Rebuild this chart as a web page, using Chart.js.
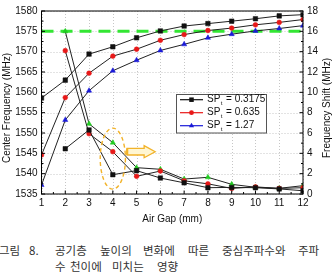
<!DOCTYPE html>
<html>
<head>
<meta charset="utf-8">
<script src="https://cdn.jsdelivr.net/npm/chart.js@4.4.1/dist/chart.umd.min.js"></script>
<style>
  html, body { margin: 0; padding: 0; background: #fff; }
  body { width: 335px; height: 279px; position: relative; overflow: hidden; }
  #wrap { position: absolute; left: 0; top: 0; width: 335px; height: 232px; }
  .cap { position: absolute; font-family: "Noto Sans CJK KR", sans-serif; font-size: 11.5px; line-height: 12px; color: #333; white-space: nowrap; }
</style>
</head>
<body>
<div id="wrap"><canvas id="chart" width="335" height="232"></canvas></div>

<span class="cap" style="left:-1px;top:244px">그림</span>
<span class="cap" style="left:29px;top:244px">8.</span>
<span class="cap" style="left:55px;top:244px">공기층</span>
<span class="cap" style="left:100px;top:244px">높이의</span>
<span class="cap" style="left:143px;top:244px">변화에</span>
<span class="cap" style="left:188px;top:244px">따른</span>
<span class="cap" style="left:222px;top:244px">중심주파수와</span>
<span class="cap" style="left:298px;top:244px">주파</span>
<span class="cap" style="left:55px;top:260px">수</span>
<span class="cap" style="left:70px;top:260px">천이에</span>
<span class="cap" style="left:112px;top:260px">미치는</span>
<span class="cap" style="left:157px;top:260px">영향</span>

<script>
const airGap = [1, 2, 3, 4, 5, 6, 7, 8, 9, 10, 11, 12];

// center frequency (MHz), left axis
const freqSP1 = [1558.6, 1563.0, 1569.4, 1571.2, 1573.4, 1575.1, 1576.3, 1576.9, 1577.5, 1578.1, 1578.8, 1579.1];
const freqSP2 = [1544.6, 1558.7, 1564.7, 1568.9, 1570.6, 1572.8, 1574.2, 1575.2, 1575.8, 1576.6, 1577.2, 1577.9];
const freqSP3 = [1537.2, 1553.2, 1560.4, 1565.3, 1567.9, 1570.3, 1571.8, 1573.4, 1574.3, 1575.1, 1575.7, 1576.4];

// frequency shift (MHz), right axis
const shiftSP1 = [null, 4.45, 6.3, 1.9, 2.3, 1.57, 1.1, 0.62, 0.65, 0.62, 0.5, 0.32];
const shiftSP2 = [null, 14.1, 5.93, 4.16, 1.74, 2.26, 1.3, 1.0, 0.55, 0.7, 0.55, 0.62];
const shiftSP3 = [null, 16.0, 6.9, 5.05, 2.59, 2.43, 1.47, 1.64, 0.95, 0.66, 0.56, 0.82];

const legendLabels = ['0.3175', '0.635', '1.27'];
const targetFreq = 1575;

const freqTicks = { min: 1535, max: 1580, step: 5 };
const shiftTicks = { min: 0, max: 18, step: 2 };

const pts = ys => airGap.map((x, i) => ({ x, y: ys[i] })).filter(p => p.y !== null);

const LINE = '#222';
const BLACK = '#111', RED = '#e81818', BLUE = '#1a1ad8', GREEN = '#22cc22';
const FONT = '"Liberation Sans", Arial, sans-serif';

function series(label, data, axis, style, color, radius) {
  return {
    label, data: pts(data), yAxisID: axis,
    borderColor: LINE, borderWidth: 1,
    pointStyle: style, pointRadius: radius, pointBackgroundColor: color,
    pointBorderColor: color, pointBorderWidth: 0.5,
    tension: 0, fill: false,
  };
}

// dotted grid, frame, ticks, titles, legend, annotation
const decor = {
  id: 'decor',
  beforeDatasetsDraw(chart) {
    const { ctx, chartArea: a, scales: { x, y } } = chart;
    ctx.save();
    ctx.strokeStyle = '#b8b8b8';
    ctx.lineWidth = 0.8;
    ctx.setLineDash([1, 2]);
    ctx.beginPath();
    airGap.forEach(v => {
      const p = Math.round(x.getPixelForValue(v)) + 0.5;
      ctx.moveTo(p, a.top); ctx.lineTo(p, a.bottom);
    });
    for (let v = freqTicks.min; v <= freqTicks.max; v += freqTicks.step) {
      const p = Math.round(y.getPixelForValue(v)) + 0.5;
      ctx.moveTo(a.left, p); ctx.lineTo(a.right, p);
    }
    ctx.stroke();
    ctx.restore();
  },
  afterDatasetsDraw(chart) {
    const { ctx, chartArea: a, scales: { x, y, y2 } } = chart;
    ctx.save();

    // dashed ellipse around gap = 4
    const cx = x.getPixelForValue(4), cy = y.getPixelForValue(1543.7);
    const rx = x.getPixelForValue(4.53) - cx, ry = y.getPixelForValue(1536.2) - cy;
    ctx.strokeStyle = '#f2b32a';
    ctx.lineWidth = 1.4;
    ctx.setLineDash([4, 3]);
    ctx.beginPath();
    ctx.ellipse(cx, cy, rx, ry, 0, 0, Math.PI * 2);
    ctx.stroke();
    ctx.setLineDash([]);

    // hollow arrow
    const ax0 = x.getPixelForValue(4.6), ax1 = x.getPixelForValue(5.78), ay = y.getPixelForValue(1545.4);
    const hx = ax1 - 11;
    ctx.beginPath();
    ctx.moveTo(ax0, ay - 3.3);
    ctx.lineTo(hx, ay - 3.3);
    ctx.lineTo(hx, ay - 6);
    ctx.lineTo(ax1, ay);
    ctx.lineTo(hx, ay + 6);
    ctx.lineTo(hx, ay + 3.3);
    ctx.lineTo(ax0, ay + 3.3);
    ctx.closePath();
    ctx.fillStyle = '#fff6d2';
    ctx.fill();
    ctx.lineWidth = 1.3;
    ctx.strokeStyle = '#f2b32a';
    ctx.stroke();
    ctx.fillStyle = '#f2b32a';
    ctx.fillRect(ax0 - 1, ay - 3.3, 2.2, 6.6);

    // frame
    ctx.strokeStyle = '#000';
    ctx.lineWidth = 1;
    ctx.strokeRect(a.left, a.top, a.right - a.left, a.bottom - a.top);

    // inner ticks
    ctx.beginPath();
    for (let v = freqTicks.min; v <= freqTicks.max; v += freqTicks.step / 2) {
      const p = y.getPixelForValue(v), len = (v - freqTicks.min) % freqTicks.step === 0 ? 3.5 : 2;
      ctx.moveTo(a.left, p); ctx.lineTo(a.left + len, p);
    }
    for (let v = shiftTicks.min; v <= shiftTicks.max; v += shiftTicks.step / 2) {
      const p = y2.getPixelForValue(v), len = v % shiftTicks.step === 0 ? 3.5 : 2;
      ctx.moveTo(a.right, p); ctx.lineTo(a.right - len, p);
    }
    for (let v = 1; v <= 12; v += 0.5) {
      const p = x.getPixelForValue(v), len = v % 1 === 0 ? 3.5 : 2;
      ctx.moveTo(p, a.bottom); ctx.lineTo(p, a.bottom - len);
    }
    ctx.stroke();

    // legend
    const lx = 176, ly = 94, lw = 90, lh = 38.5;
    ctx.fillStyle = '#fff';
    ctx.fillRect(lx, ly, lw, lh);
    ctx.strokeStyle = '#555';
    ctx.strokeRect(lx + 0.5, ly + 0.5, lw, lh);
    const legendStyle = [[BLACK, 'rect', 3.2], [RED, 'circle', 2.4], [BLUE, 'triangle', 3]];
    legendStyle.forEach(([c, st, r], i) => {
      const ry0 = ly + 5.7 + i * 13;
      ctx.strokeStyle = c;
      ctx.lineWidth = 1.2;
      ctx.beginPath(); ctx.moveTo(lx + 4, ry0); ctx.lineTo(lx + 27, ry0); ctx.stroke();
      ctx.fillStyle = c;
      Chart.helpers.drawPoint(ctx, { pointStyle: st, radius: r, borderWidth: 0 }, lx + 15.5, ry0);
      ctx.fillStyle = '#111';
      ctx.textBaseline = 'middle';
      ctx.textAlign = 'left';
      ctx.font = '10px ' + FONT;
      ctx.fillText('SP', lx + 31, ry0);
      const w = ctx.measureText('SP').width;
      ctx.font = '6px ' + FONT;
      ctx.fillText('t', lx + 31 + w + 0.5, ry0 + 3.5);
      ctx.font = '10px ' + FONT;
      ctx.fillText(' = ' + legendLabels[i], lx + 31 + w + 3, ry0);
    });

    ctx.restore();
  },
  afterDraw(chart) {
    const { ctx, chartArea: a } = chart;
    ctx.save();
    ctx.fillStyle = '#111';
    ctx.font = '10px ' + FONT;
    ctx.textAlign = 'center';
    ctx.textBaseline = 'middle';
    ctx.fillText('Air Gap (mm)', (a.left + a.right) / 2, 219.5);
    const my = 108;
    ctx.translate(7, my); ctx.rotate(-Math.PI / 2);
    ctx.fillText('Center Frequency (MHz)', 0, 0);
    ctx.setTransform(1, 0, 0, 1, 0, 0);
    ctx.translate(327.5, my); ctx.rotate(-Math.PI / 2);
    ctx.fillText('Frequency Shift (MHz)', 0, 0);
    ctx.restore();
  },
};

const tickFont = { family: FONT, size: 10 };
const plain = v => String(v);

new Chart(document.getElementById('chart'), {
  type: 'line',
  data: {
    datasets: [
      series('SP 0.3175', freqSP1, 'y', 'rect', BLACK, 3.2),
      series('SP 0.635', freqSP2, 'y', 'circle', RED, 2.4),
      series('SP 1.27', freqSP3, 'y', 'triangle', BLUE, 3),
      series('shift 0.3175', shiftSP1, 'y2', 'rect', BLACK, 3.2),
      series('shift 0.635', shiftSP2, 'y2', 'circle', RED, 2.4),
      series('shift 1.27', shiftSP3, 'y2', 'triangle', GREEN, 3),
      {
        label: 'target', yAxisID: 'y', order: 10,
        data: [{ x: airGap[0], y: targetFreq }, { x: airGap[airGap.length - 1], y: targetFreq }],
        borderColor: '#33e633', borderWidth: 3, borderDash: [12, 7], pointRadius: 0, fill: false,
      },
    ],
  },
  options: {
    responsive: false,
    animation: false,
    devicePixelRatio: 1,
    layout: { padding: { top: 11, left: 0, right: 0, bottom: 0 } },
    plugins: { legend: { display: false }, tooltip: { enabled: false } },
    scales: {
      x: {
        type: 'linear', min: 1, max: 12,
        ticks: { stepSize: 1, color: '#111', font: tickFont, padding: 3, callback: plain },
        grid: { display: false, drawTicks: false },
        border: { display: false },
        afterFit: s => { s.height = 38; },
      },
      y: {
        position: 'left', min: freqTicks.min, max: freqTicks.max,
        ticks: { stepSize: freqTicks.step, color: '#111', font: tickFont, padding: 4, callback: plain },
        grid: { display: false, drawTicks: false },
        border: { display: false },
        afterFit: s => { s.width = 41.5; },
      },
      y2: {
        position: 'right', min: shiftTicks.min, max: shiftTicks.max,
        ticks: { stepSize: shiftTicks.step, color: '#111', font: tickFont, padding: 4, callback: plain },
        grid: { display: false, drawTicks: false },
        border: { display: false },
        afterFit: s => { s.width = 32; },
      },
    },
  },
  plugins: [decor],
});
</script>
</body>
</html>
